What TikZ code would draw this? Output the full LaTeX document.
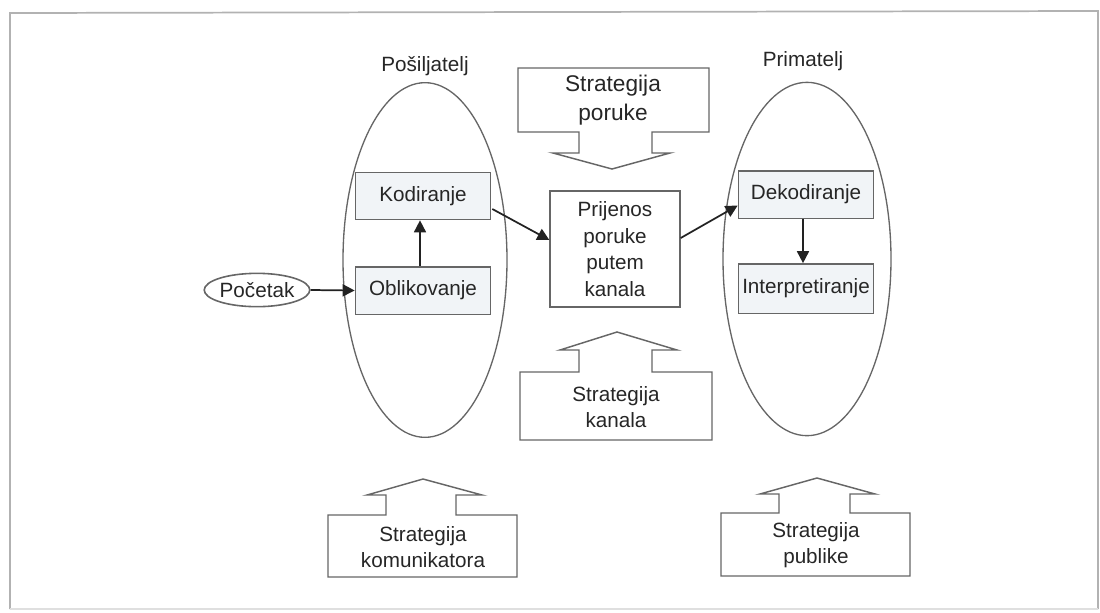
\documentclass[tikz,border=0pt]{standalone}
\usepackage{fontspec}
\setmainfont{Liberation Sans}
\usetikzlibrary{arrows.meta,calc,shapes.geometric}
\definecolor{lin}{HTML}{666666}
\definecolor{boxfill}{HTML}{F1F4F7}
\definecolor{arr}{HTML}{222222}
\begin{document}
\begin{tikzpicture}[x=0.75pt,y=-0.75pt,
  every node/.style={font=\fontsize{15.5pt}{20pt}\selectfont, text=black!85},
  inbox/.style={draw=lin, line width=1pt, fill=boxfill, minimum width=101.5pt, minimum height=35.5pt, inner sep=0pt},
  oval/.style={draw=lin, line width=1pt, ellipse, inner sep=0pt},
  blockarrow/.style={draw=lin, line width=1.1pt, line join=miter},
  conn/.style={draw=arr, line width=1.3pt, -{Triangle[length=9pt,width=9pt]}},
  txt/.style={align=center, inner sep=0pt}]
\useasboundingbox (0,0) rectangle (1100,612);
% frame
\draw[gray!60, line width=1.3pt] (10,609) -- (10,13) -- (1098,11) -- (1098,609);
\draw[gray!25, line width=1pt] (10,609) -- (1098,609);

% ellipses
\node[oval, minimum width=123pt, minimum height=266pt] (send) at (425,260) {};
\node[oval, minimum width=126pt, minimum height=265pt] (recv) at (807,259) {};
\node[txt] (sendl) at (425,66) {Pošiljatelj};
\node[txt] (recvl) at (803,61) {Primatelj};

% inner boxes
\node[inbox] (kod) at (423,196) {Kodiranje};
\node[inbox] (obl) at (423,290.5) {Oblikovanje};
\node[inbox] (dek) at (806,194.5) {Dekodiranje};
\node[inbox, minimum height=37pt] (int) at (806,288.5) {Interpretiranje};

% start
\node[oval, minimum width=73pt, minimum height=25pt, line width=1.2pt] (poc) at (257,290) {Početak};

% central box
\node[draw=lin, line width=1pt, minimum width=97.5pt, minimum height=87pt, align=center, inner sep=0pt] (prj) at (615,249) {Prijenos\\poruke\\putem\\kanala};

% block arrows
\draw[blockarrow] (518,68) -- (709,68) -- (709,132) -- (652,132) -- (652,153) -- (670,153) -- (612,169) -- (553,153) -- (579,153) -- (579,132) -- (518,132) -- cycle;
\node[txt, font=\fontsize{17pt}{22pt}\selectfont] (sporuke) at (613,100) {Strategija\\poruke};

\draw[blockarrow] (520,440) -- (712,440) -- (712,372) -- (652,372) -- (652,350) -- (677,350) -- (617,332) -- (560,350) -- (579,350) -- (579,372) -- (520,372) -- cycle;
\node[txt] (skanala) at (616,407) {Strategija\\kanala};

\draw[blockarrow] (328,577) -- (517,577) -- (517,515) -- (456,515) -- (456,495) -- (482,495) -- (423,479) -- (367,495) -- (386,495) -- (386,515) -- (328,515) -- cycle;
\node[txt] (skom) at (423,547) {Strategija\\komunikatora};

\draw[blockarrow] (721,576) -- (910,576) -- (910,513) -- (850,513) -- (850,494) -- (875,494) -- (817,478) -- (760,494) -- (779,494) -- (779,513) -- (721,513) -- cycle;
\node[txt] (spub) at (816,545) {Strategija\\publike};

% connectors
\draw[conn] (poc.east) -- (obl.west);
\draw[conn] ($(obl.north)+(-3,0)$) -- ($(kod.south)+(-3,0)$);
\draw[conn] ($(kod.east)+(1,13)$) -- ($(prj.west)+(0,-9)$);
\draw[conn] ($(prj.east)+(0,-11)$) -- ($(dek.west)+(0,11)$);
\draw[conn] ($(dek.south)+(-3,0)$) -- ($(int.north)+(-3,0)$);
\end{tikzpicture}
\end{document}
